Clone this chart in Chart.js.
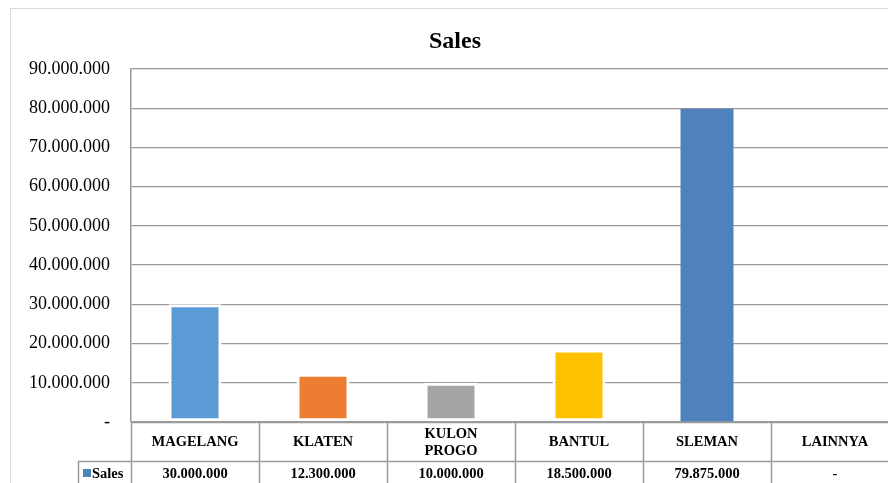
<!DOCTYPE html>
<html>
<head>
<meta charset="utf-8">
<script src="https://cdn.jsdelivr.net/npm/chart.js@4/dist/chart.umd.min.js"></script>
<style>
  html, body { margin: 0; padding: 0; background: #fff; overflow: hidden; width: 888px; height: 483px; }
  #frame { position: absolute; left: 10px; top: 8px; width: 905px; height: 520px; border: 1.5px solid #d9d9d9; }
  #c { position: absolute; left: 0; top: 0; }
</style>
</head>
<body>
<div id="frame"></div>
<canvas id="c" width="912" height="483" style="width:912px;height:483px"></canvas>
<script>
// ---- data ----
const categories = ['MAGELANG', 'KLATEN', 'KULON PROGO', 'BANTUL', 'SLEMAN', 'LAINNYA'];
const seriesName = 'Sales';
const salesValues = [30000000, 12300000, 10000000, 18500000, 79875000, 0];
const yTickMax = 90000000;
const yTickStep = 10000000;

// ---- styles ----
const barColors = ['#5B9BD5', '#ED7D31', '#A5A5A5', '#FFC000', '#4F81BD', '#4F81BD'];
const barBorders = [3, 3, 3, 3, 0, 0];
const keyColor = '#4F81BD';
const lineColor = '#9a9a9a';
const serif = "'Liberation Serif', 'Times New Roman', serif";

function fmt(v) {
  if (v === 0) return '-';
  return String(v).replace(/\B(?=(\d{3})+(?!\d))/g, '.');
}

const tablePlugin = {
  id: 'dataTable',
  afterDraw(chart) {
    const ctx = chart.ctx;
    const area = chart.chartArea;
    const xs = chart.scales.x;
    const n = categories.length;
    const colW = xs.getPixelForValue(1) - xs.getPixelForValue(0);
    const top = area.bottom;
    const headH = 39;
    const rowY = top + headH;
    const bottom = chart.height + 10;
    const keyLeft = 78;
    ctx.save();
    ctx.strokeStyle = lineColor;
    ctx.lineWidth = 1.5;
    // horizontal lines
    ctx.beginPath();
    ctx.moveTo(area.left, Math.round(top) + 0.5);
    ctx.lineTo(chart.width, Math.round(top) + 0.5);
    ctx.moveTo(keyLeft, Math.round(rowY) + 0.5);
    ctx.lineTo(chart.width, Math.round(rowY) + 0.5);
    // vertical lines
    for (let i = 0; i <= n; i++) {
      const x = Math.round(xs.getPixelForValue(i) - colW / 2) + 0.5;
      ctx.moveTo(x, top);
      ctx.lineTo(x, bottom);
    }
    ctx.moveTo(keyLeft + 0.5, rowY);
    ctx.lineTo(keyLeft + 0.5, bottom);
    ctx.stroke();

    // texts
    ctx.fillStyle = '#000';
    ctx.font = 'bold 14.5px ' + serif;
    ctx.textAlign = 'center';
    ctx.textBaseline = 'middle';
    for (let i = 0; i < n; i++) {
      const cx = xs.getPixelForValue(i);
      const words = categories[i].split(' ');
      const lines = (words.length > 1 && categories[i].length > 10) ? words : [categories[i]];
      const lh = 17;
      const cy = top + headH / 2 + 1;
      lines.forEach((ln, k) => {
        ctx.fillText(ln, cx, cy + (k - (lines.length - 1) / 2) * lh);
      });
      ctx.fillText(fmt(salesValues[i]), cx, rowY + 13);
    }
    // legend key
    ctx.fillStyle = keyColor;
    ctx.fillRect(83, rowY + 8, 8, 8);
    ctx.fillStyle = '#000';
    ctx.textAlign = 'left';
    ctx.fillText(seriesName, 92, rowY + 13);
    ctx.restore();
  }
};

new Chart(document.getElementById('c'), {
  type: 'bar',
  data: {
    labels: categories,
    datasets: [{
      label: seriesName,
      data: salesValues,
      backgroundColor: barColors,
      borderColor: '#ffffff',
      borderWidth: barBorders,
      borderSkipped: false,
      barPercentage: 0.414,
      categoryPercentage: 1
    }]
  },
  options: {
    responsive: false,
    animation: false,
    devicePixelRatio: 1,
    layout: { padding: { left: 11, right: 13, top: 0, bottom: 61 } },
    plugins: {
      legend: { display: false },
      tooltip: { enabled: false },
      title: {
        display: true,
        text: 'Sales',
        color: '#000',
        font: { family: serif, size: 24, weight: 'bold' },
        padding: { top: 27.6, bottom: 12.6 }
      }
    },
    scales: {
      x: {
        ticks: { display: false },
        grid: { display: false },
        border: { display: false },
        afterFit(scale) { scale.height = 0; }
      },
      y: {
        min: 0,
        max: yTickMax,
        ticks: {
          stepSize: yTickStep,
          color: '#000',
          padding: 21,
          font: { family: serif, size: 18 },
          callback: (v) => fmt(v)
        },
        grid: { color: lineColor, lineWidth: 1.3, drawTicks: false },
        border: { display: true, color: lineColor, width: 1.5 },
        afterFit(scale) { scale.width = 120; }
      }
    }
  },
  plugins: [tablePlugin]
});
</script>
</body>
</html>
